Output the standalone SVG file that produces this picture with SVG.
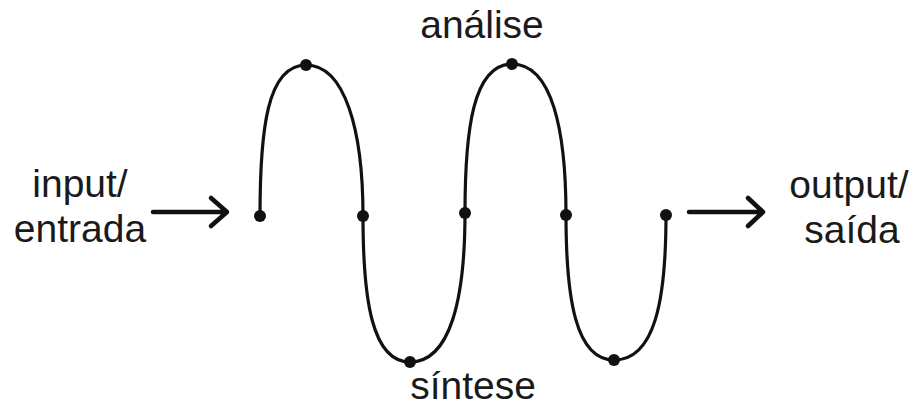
<svg xmlns="http://www.w3.org/2000/svg" width="914" height="408" viewBox="0 0 914 408">
<style>
text{font-family:"Liberation Sans",Arial,sans-serif;font-size:39px;fill:#1a1a1a;text-anchor:middle}
.ln{fill:none;stroke:#111;stroke-width:3.2;stroke-linecap:round;stroke-linejoin:round}
.ar{fill:none;stroke:#111;stroke-width:4.5;stroke-linecap:round;stroke-linejoin:round}
.dot{fill:#111}
</style>
<rect width="914" height="408" fill="#fff"/>
<g id="connectors">
<path class="ar" d="M153,212 H226 M211,198 L227,212 L211,226"/>
<path class="ar" d="M689,212 H762 M748,198 L763,212 L748,226"/>
<path id="wave" class="ln" d="M260,216 C260,130 267,65 306,65 C345,65 363,130 363,216 C363,300 372,362 410,362 C450,362 465,300 465,213 C465,130 473,64 512,64 C552,64 566,130 566,215 C566,300 576,360 614,360 C655,360 666,300 666,215"/>
</g>
<g id="dots">
<circle class="dot" cx="260" cy="216" r="6"/>
<circle class="dot" cx="306" cy="65" r="6"/>
<circle class="dot" cx="363" cy="216" r="6"/>
<circle class="dot" cx="410" cy="362" r="6"/>
<circle class="dot" cx="465" cy="213" r="6"/>
<circle class="dot" cx="512" cy="64" r="6"/>
<circle class="dot" cx="566" cy="215" r="6"/>
<circle class="dot" cx="614" cy="360" r="6"/>
<circle class="dot" cx="666" cy="215" r="6"/>
</g>
<g id="input"><text x="80" y="197">input/</text><text x="80" y="242">entrada</text></g>
<g id="output"><text x="849" y="198">output/</text><text x="852" y="243">saída</text></g>
<g id="analise"><text x="482" y="38">análise</text></g>
<g id="sintese"><text x="473" y="399">síntese</text></g>
</svg>
